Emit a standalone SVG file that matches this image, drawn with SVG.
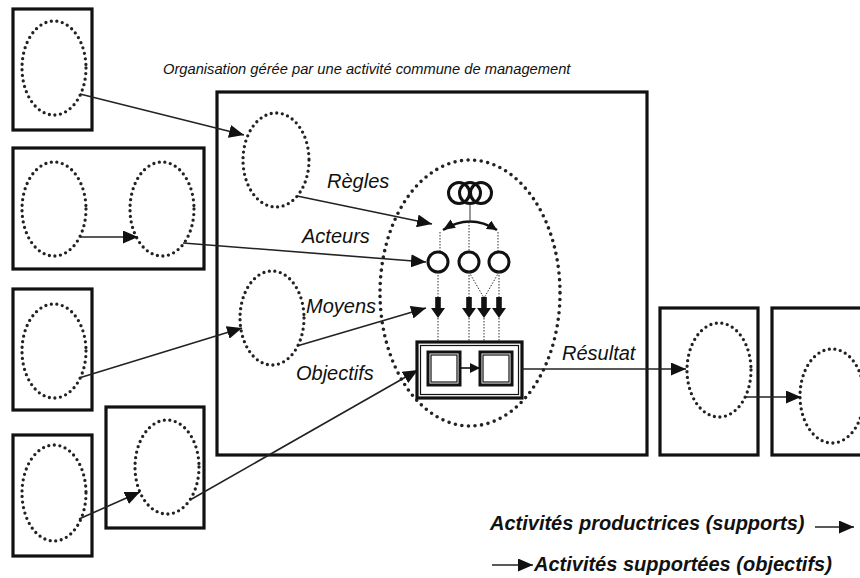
<svg xmlns="http://www.w3.org/2000/svg" width="860" height="578" viewBox="0 0 860 578">
<defs>
<style>
.box{fill:none;stroke:#111;stroke-width:3.2}
.dot{fill:none;stroke:#222;stroke-width:3.3;stroke-dasharray:0 5.6;stroke-linecap:round}
.bigdot{fill:none;stroke:#222;stroke-width:3.6;stroke-dasharray:0 6.6;stroke-linecap:round}
.con{fill:none;stroke:#222;stroke-width:1.6}
.thin{fill:none;stroke:#333;stroke-width:1;stroke-dasharray:1.5 1.5}
.ring{fill:none;stroke:#111;stroke-width:3}
.lbl{font-family:"Liberation Sans",Arial,sans-serif;font-style:italic;font-size:20px;fill:#111}
.ttl{font-family:"Liberation Sans",Arial,sans-serif;font-style:italic;font-size:14.7px;fill:#111}
.leg{font-family:"Liberation Sans",Arial,sans-serif;font-style:italic;font-weight:bold;font-size:20px;fill:#111}
</style>
<marker id="ah" markerUnits="userSpaceOnUse" markerWidth="15" markerHeight="13" refX="15" refY="6.5" orient="auto">
<path d="M0,0 L15,6.5 L0,13 z" fill="#111"/>
</marker>
<marker id="ahs" markerUnits="userSpaceOnUse" markerWidth="10" markerHeight="10" refX="10" refY="5" orient="auto">
<path d="M0,0 L10,5 L0,10 z" fill="#111"/>
</marker>
<marker id="ahr" markerUnits="userSpaceOnUse" markerWidth="12" markerHeight="10" refX="0" refY="5" orient="auto">
<path d="M12,0 L0,5 L12,10 z" fill="#111"/>
</marker>
<path id="blk" d="M-2.8,0 H2.8 V11 H7 L0,21 L-7,11 H-2.8 z" fill="#111"/>
</defs>
<rect width="860" height="578" fill="#fff"/>

<text class="ttl" x="163" y="74">Organisation gérée par une activité commune de management</text>

<g id="box1"><rect class="box" x="13" y="9" width="79" height="121"/><ellipse class="dot" cx="54" cy="68" rx="32" ry="47"/></g>
<g id="box2"><rect class="box" x="13" y="148" width="191" height="121"/><ellipse class="dot" cx="54" cy="209" rx="32" ry="47"/><ellipse class="dot" cx="162" cy="209" rx="32" ry="47"/></g>
<g id="box3"><rect class="box" x="13" y="289" width="79" height="121"/><ellipse class="dot" cx="54" cy="351" rx="32" ry="47"/></g>
<g id="box4"><rect class="box" x="13" y="435" width="79" height="121"/><ellipse class="dot" cx="54" cy="493" rx="32" ry="48"/></g>
<g id="box5"><rect class="box" x="106" y="407" width="98" height="121"/><ellipse class="dot" cx="167" cy="467" rx="32" ry="47"/></g>

<g id="organisation">
<rect class="box" x="217" y="92" width="430" height="363"/>
<ellipse class="dot" cx="276" cy="160" rx="33" ry="47"/>
<ellipse class="dot" cx="272" cy="318" rx="32" ry="47"/>
<ellipse class="bigdot" cx="470" cy="293" rx="90" ry="133"/>
</g>

<g id="management">
<circle cx="459" cy="193" r="10.5" class="ring"/>
<circle cx="470" cy="193" r="10.5" class="ring"/>
<circle cx="481" cy="193" r="10.5" class="ring"/>
<line x1="470" y1="204" x2="470" y2="220" stroke="#333" stroke-width="1"/>
<path d="M443,230 Q470,213 497,230" fill="none" stroke="#111" stroke-width="2.5" marker-start="url(#ahr)" marker-end="url(#ahs)"/>
<path class="thin" d="M440,232 V252 M469,222 V252 M498,232 V252"/>
<circle cx="438" cy="262" r="10" class="ring"/>
<circle cx="469" cy="262" r="10" class="ring"/>
<circle cx="499" cy="262" r="10" class="ring"/>
<path class="thin" d="M438,272 V298 M469,272 V298 M469,272 L484,298 M499,272 L484,298 M499,272 V298"/>
<use href="#blk" x="438" y="297"/>
<use href="#blk" x="469" y="297"/>
<use href="#blk" x="484" y="297"/>
<use href="#blk" x="499" y="297"/>
<path class="thin" d="M438,318 V342 M469,318 V342 M484,318 V342 M499,318 V342"/>
<rect x="417" y="342" width="105" height="56" fill="#fff" stroke="#111" stroke-width="3.2"/>
<rect x="420.5" y="345.5" width="98" height="49" fill="none" stroke="#111" stroke-width="1.2"/>
<rect x="428" y="352" width="32" height="33" fill="none" stroke="#111" stroke-width="3"/>
<rect x="431" y="355" width="26" height="27" fill="none" stroke="#111" stroke-width="1.2"/>
<rect x="480" y="352" width="32" height="33" fill="none" stroke="#111" stroke-width="3"/>
<rect x="483" y="355" width="26" height="27" fill="none" stroke="#111" stroke-width="1.2"/>
<line x1="460" y1="368" x2="480" y2="368" stroke="#111" stroke-width="1.6" marker-end="url(#ahs)"/>
</g>

<g id="box6"><rect class="box" x="660" y="308" width="98" height="147"/><ellipse class="dot" cx="719" cy="370" rx="32" ry="47"/></g>
<g id="box7"><rect class="box" x="772" y="308" width="92" height="147"/><ellipse class="dot" cx="832" cy="396" rx="32" ry="47"/></g>

<g id="connectors">
<line class="con" x1="80" y1="94" x2="244" y2="135" marker-end="url(#ah)"/>
<line class="con" x1="80" y1="237" x2="138" y2="237" marker-end="url(#ah)"/>
<line class="con" x1="183" y1="243" x2="426" y2="262" marker-end="url(#ah)"/>
<line class="con" x1="79" y1="378" x2="242" y2="328" marker-end="url(#ah)"/>
<line class="con" x1="79" y1="519" x2="140" y2="492" marker-end="url(#ah)"/>
<line class="con" x1="190" y1="500" x2="418" y2="370" marker-end="url(#ah)"/>
<line class="con" x1="297" y1="196" x2="432" y2="224" marker-end="url(#ah)"/>
<line class="con" x1="297" y1="346" x2="426" y2="308" marker-end="url(#ah)"/>
<line class="con" x1="522" y1="369" x2="686" y2="369" marker-end="url(#ah)"/>
<line class="con" x1="745" y1="397" x2="801" y2="397" marker-end="url(#ah)"/>
</g>

<g id="labels">
<text class="lbl" x="327" y="188">Règles</text>
<text class="lbl" x="302" y="243">Acteurs</text>
<text class="lbl" x="306" y="313">Moyens</text>
<text class="lbl" x="296" y="380">Objectifs</text>
<text class="lbl" x="562" y="360">Résultat</text>
</g>

<g id="legend">
<text class="leg" x="490" y="530">Activités productrices (supports)</text>
<line class="con" x1="815" y1="527" x2="854" y2="527" marker-end="url(#ah)"/>
<line class="con" x1="492" y1="565" x2="533" y2="565" marker-end="url(#ah)"/>
<text class="leg" x="534" y="571">Activités supportées (objectifs)</text>
</g>
</svg>
